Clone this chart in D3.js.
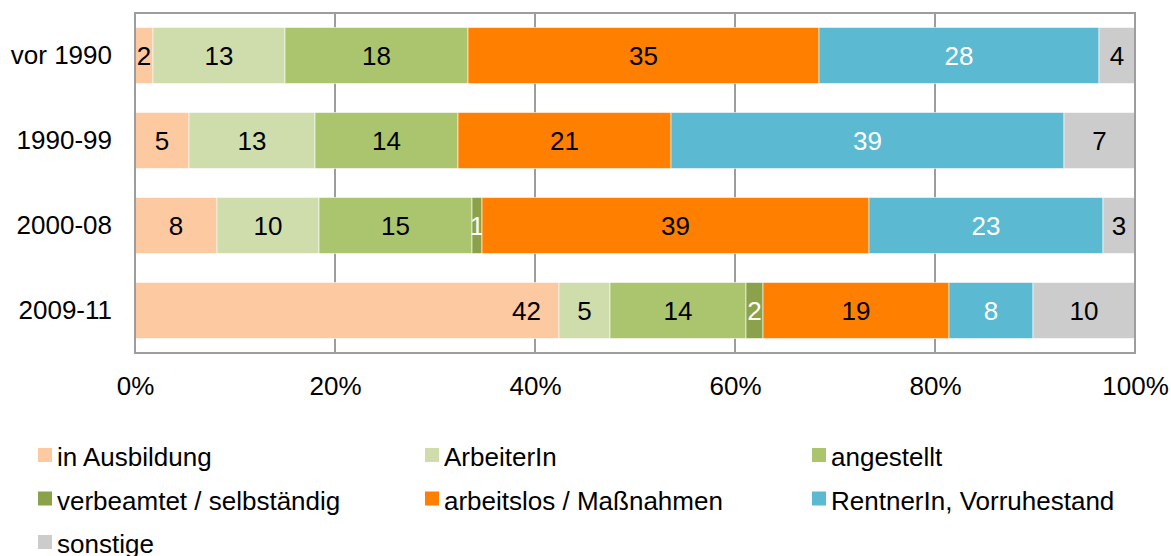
<!DOCTYPE html>
<html>
<head>
<meta charset="utf-8">
<script src="https://cdn.jsdelivr.net/npm/d3@7"></script>
<style>
  body { margin: 0; background: #fff; }
  svg text { font-family: "Liberation Sans", Arial, sans-serif; }
</style>
</head>
<body>
<svg id="chart" width="1171" height="556"></svg>
<script>
// categories (top to bottom)
const periods = ["vor 1990", "1990-99", "2000-08", "2009-11"]

// series, in stacking order
const series = ["in Ausbildung", "ArbeiterIn", "angestellt", "verbeamtet / selbständig",
  "arbeitslos / Maßnahmen", "RentnerIn, Vorruhestand", "sonstige"]
const colors = ["#fcc9a1", "#cfddad", "#abc46e", "#8ba24a", "#ff7f00", "#5bb9d2", "#cccccc"]
const labelColors = ["#000", "#000", "#000", "#fff", "#000", "#fff", "#000"]

// percent per period, one array per series
const inAusbildung = [1.8, 5.4, 8.2, 42.4]
const arbeiterIn   = [13.2, 12.6, 10.2, 5.1]
const angestellt   = [18.3, 14.3, 15.3, 13.6]
const verbeamtet   = [0, 0, 1.0, 1.7]
const arbeitslos   = [35.1, 21.3, 38.7, 18.6]
const rentnerIn    = [28.0, 39.3, 23.4, 8.4]
const sonstige     = [3.6, 7.1, 3.2, 10.2]

const xTicks = [0, 20, 40, 60, 80, 100]

const seriesValues = [inAusbildung, arbeiterIn, angestellt, verbeamtet, arbeitslos, rentnerIn, sonstige]

const margin = {top: 13, right: 36, bottom: 203, left: 135}
const width = 1171 - margin.left - margin.right
const height = 556 - margin.top - margin.bottom
const fontSize = 26

const svg = d3.select('#chart')
const g = svg.append('g')
  .attr('transform', `translate(${margin.left},${margin.top})`)

// build a table for d3.stack
const table = periods.map((p, i) => {
  const row = {period: p}
  series.forEach((s, j) => { row[s] = seriesValues[j][i] })
  return row
})
const stacked = d3.stack().keys(series)(table)

const x = d3.scaleLinear()
  .domain([0, 100])
  .range([0, width])

const y = d3.scaleBand()
  .domain(periods)
  .range([0, height])
  .paddingInner(0.34)
  .paddingOuter(0.17)

const color = d3.scaleOrdinal().domain(series).range(colors)

// grid lines
g.append('g')
  .selectAll('line')
  .data(xTicks.slice(1, -1))
  .enter().append('line')
  .attr('x1', d => x(d))
  .attr('x2', d => x(d))
  .attr('y1', 0)
  .attr('y2', height)
  .attr('stroke', '#9d9d9d')
  .attr('stroke-width', 2)

// bars
const layer = g.append('g')
  .selectAll('g')
  .data(stacked)
  .enter().append('g')
  .attr('fill', d => color(d.key))

layer.selectAll('rect')
  .data(d => d)
  .enter().append('rect')
  .attr('x', d => x(d[0]))
  .attr('y', d => y(d.data.period))
  .attr('width', d => x(d[1]) - x(d[0]))
  .attr('height', y.bandwidth())
  .attr('stroke', '#ffffff')
  .attr('stroke-opacity', 0.6)
  .attr('stroke-width', 1)

// value labels
const fmt = d3.format('.0f')
layer.each(function (s, j) {
  d3.select(this).selectAll('text')
    .data(s.filter(d => d[1] - d[0] > 0.5))
    .enter().append('text')
    .attr('x', d => (d[1] - d[0]) > 40 ? x(d[1]) - 18 : x((d[0] + d[1]) / 2))
    .attr('y', d => y(d.data.period) + y.bandwidth() / 2)
    .attr('dy', '0.36em')
    .attr('text-anchor', d => (d[1] - d[0]) > 40 ? 'end' : 'middle')
    .attr('font-size', fontSize)
    .attr('fill', labelColors[j])
    .text(d => fmt(d[1] - d[0]))
})

// frame
g.append('rect')
  .attr('x', 0)
  .attr('y', 0)
  .attr('width', width)
  .attr('height', height)
  .attr('fill', 'none')
  .attr('stroke', '#9d9d9d')
  .attr('stroke-width', 2)

// axes
const xAxis = g.append('g')
  .attr('transform', `translate(0,${height})`)
  .call(d3.axisBottom(x).tickValues(xTicks).tickFormat(d => d + '%').tickSize(0).tickPadding(24))
xAxis.select('.domain').remove()
xAxis.selectAll('text').attr('font-size', fontSize).attr('fill', '#000').style('font-family', '"Liberation Sans", Arial, sans-serif')

const yAxis = g.append('g')
  .call(d3.axisLeft(y).tickSize(0).tickPadding(23))
yAxis.select('.domain').remove()
yAxis.selectAll('text').attr('font-size', fontSize).attr('fill', '#000').style('font-family', '"Liberation Sans", Arial, sans-serif')

// legend
const legendCols = [38, 425, 812]
const legend = svg.append('g').attr('class', 'legend')
const item = legend.selectAll('g')
  .data(series)
  .enter().append('g')
  .attr('transform', (d, i) => `translate(${legendCols[i % 3]},${448 + Math.floor(i / 3) * 43.5})`)

item.append('rect')
  .attr('width', 14)
  .attr('height', 14)
  .attr('fill', d => color(d))

item.append('text')
  .attr('x', 19)
  .attr('y', 18)
  .attr('font-size', fontSize)
  .attr('fill', '#000')
  .text(d => d)
</script>
</body>
</html>
